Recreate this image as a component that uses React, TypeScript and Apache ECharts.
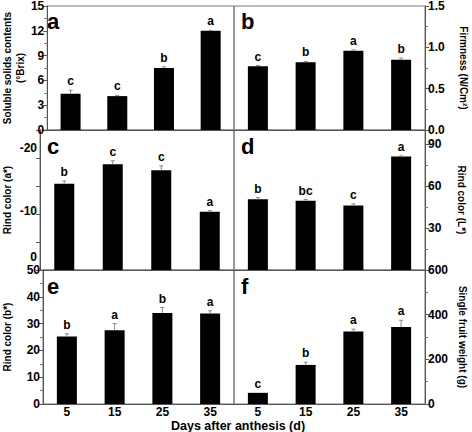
import React, { useEffect, useRef } from "react";
import * as echarts from "echarts";

const days = ["5", "15", "25", "35"];

const solids = [4.4, 4.1, 7.5, 12.0];
const solidsErr = [0.4, 0.1, 0.15, 0.05];
const solidsLetters = ["c", "c", "b", "a"];

const firmness = [0.77, 0.82, 0.96, 0.85];
const firmnessErr = [0.01, 0.01, 0.01, 0.02];
const firmnessLetters = ["c", "b", "a", "b"];

const rindA = [-15.4, -18.9, -17.8, -10.4];
const rindAErr = [0.5, 0.6, 0.8, 0.2];
const rindALetters = ["b", "c", "c", "a"];

const rindL = [50.5, 49.5, 46.0, 81.0];
const rindLErr = [1.2, 0.8, 1.2, 0.5];
const rindLLetters = ["b", "bc", "c", "a"];

const rindB = [25.2, 27.5, 34.0, 33.8];
const rindBErr = [1.0, 2.5, 2.0, 1.0];
const rindBLetters = ["b", "a", "b", "a"];

const weight = [50, 175, 325, 345];
const weightErr = [0, 12, 10, 30];
const weightLetters = ["c", "b", "a", "a"];

const panelLetters = ["a", "b", "c", "d", "e", "f"];
const xTitle = "Days after anthesis (d)";

const FONT = "'Liberation Sans', Arial, Helvetica, sans-serif";

const rows = [
  { top: 5, height: 125 },
  { top: 130, height: 140 },
  { top: 270, height: 134 },
];
const cols = [
  { left: 40, width: 194 },
  { left: 234, width: 191 },
];

type Panel = {
  values: number[];
  errs: number[];
  letters: string[];
  yAxis: any;
};

const lbl = { fontFamily: FONT, fontWeight: "bold", fontSize: 12, color: "#000" };

const panels: Panel[] = [
  {
    values: solids,
    errs: solidsErr,
    letters: solidsLetters,
    yAxis: {
      position: "left",
      min: 0,
      max: 15,
      interval: 3,
      name: "Soluble solids contents\n(°Brix)",
      nameGap: 17,
    },
  },
  {
    values: firmness,
    errs: firmnessErr,
    letters: firmnessLetters,
    yAxis: {
      position: "right",
      min: 0,
      max: 1.5,
      interval: 0.5,
      name: "Firmness (N/Cm²)",
      nameGap: 32,
      axisLabel: { formatter: (v: number) => v.toFixed(1) },
    },
  },
  {
    values: rindA,
    errs: rindAErr,
    letters: rindALetters,
    yAxis: {
      position: "left",
      min: -25,
      max: 0,
      interval: 5,
      inverse: true,
      name: "Rind color (a*)",
      nameGap: 26,
      minorTick: { show: false },
      axisLabel: {
        formatter: (v: number) =>
          v === 0 ? "{l0|0}" : v === -20 ? "{l1|-20}" : v === -10 ? "{l2|-10}" : "",
        rich: {
          l0: { ...lbl, padding: [0, 0, 26, 0] },
          l1: { ...lbl, padding: [0, 0, 20, 0] },
          l2: { ...lbl, padding: [0, 0, 6, 0] },
        },
      },
    },
  },
  {
    values: rindL,
    errs: rindLErr,
    letters: rindLLetters,
    yAxis: {
      position: "right",
      min: 0,
      max: 100,
      interval: 30,
      name: "Rind color (L*)",
      nameGap: 30,
      axisLabel: { showMaxLabel: false, showMinLabel: false },
    },
  },
  {
    values: rindB,
    errs: rindBErr,
    letters: rindBLetters,
    yAxis: {
      position: "left",
      min: 0,
      max: 50,
      interval: 10,
      name: "Rind color (b*)",
      nameGap: 29,
    },
  },
  {
    values: weight,
    errs: weightErr,
    letters: weightLetters,
    yAxis: {
      position: "right",
      min: 0,
      max: 600,
      interval: 200,
      name: "Single fruit weight (g)",
      nameGap: 31,
    },
  },
];

export default function App() {
  const ref = useRef<HTMLDivElement>(null);

  useEffect(() => {
    if (!ref.current) return;
    const chart = echarts.init(ref.current, undefined, { renderer: "svg" });

    const grid: any[] = [];
    const xAxis: any[] = [];
    const yAxis: any[] = [];
    const series: any[] = [];
    const graphic: any[] = [];

    panels.forEach((p, i) => {
      const r = rows[Math.floor(i / 2)];
      const c = cols[i % 2];
      const isBottom = Math.floor(i / 2) === 2;
      const isRight = i % 2 === 1;
      grid.push({
        left: c.left,
        top: r.top,
        width: c.width,
        height: r.height,
        show: true,
        borderColor: "#777",
        borderWidth: 1,
        backgroundColor: "transparent",
      });
      xAxis.push({
        type: "category",
        gridIndex: i,
        data: days,
        axisTick: { show: false },
        axisLine: { lineStyle: { color: "#555", width: 1 } },
        axisLabel: {
          show: isBottom,
          fontFamily: FONT,
          fontWeight: "bold",
          fontSize: 12,
          color: "#000",
          margin: 2,
        },
        splitLine: { show: false },
      });
      const ya = p.yAxis;
      yAxis.push({
        type: "value",
        gridIndex: i,
        position: ya.position,
        min: ya.min,
        max: ya.max,
        interval: ya.interval,
        inverse: ya.inverse || false,
        name: ya.name,
        nameLocation: "middle",
        nameGap: ya.nameGap,
        nameRotate: isRight ? -90 : 90,
        nameTextStyle: {
          fontFamily: FONT,
          fontWeight: "bold",
          fontSize: 10,
          color: "#000",
          lineHeight: 13,
        },
        axisLine: { show: true, lineStyle: { color: "#555", width: 1 } },
        axisTick: { show: true, length: 4, lineStyle: { color: "#555" } },
        minorTick: ya.minorTick || { show: true, splitNumber: 2, length: 3, lineStyle: { color: "#777" } },
        splitLine: { show: false },
        axisLabel: {
          ...lbl,
          margin: 3,
          ...(ya.axisLabel || {}),
        },
      });
      series.push({
        type: "bar",
        xAxisIndex: i,
        yAxisIndex: i,
        data: p.values,
        barWidth: 20,
        itemStyle: { color: "#000" },
        z: 2,
      });
      series.push({
        type: "custom",
        xAxisIndex: i,
        yAxisIndex: i,
        z: 3,
        clip: false,
        data: p.values.map((v, k) => [k, v, p.errs[k]]),
        renderItem: (params: any, api: any) => {
          const k = api.value(0);
          const v = api.value(1);
          const e = api.value(2);
          const top = v < 0 ? v - e : v + e;
          const p0 = api.coord([k, v]);
          const p1 = api.coord([k, top]);
          const children: any[] = [];
          if (e > 0) {
            children.push({
              type: "line",
              shape: { x1: p1[0], y1: p0[1], x2: p1[0], y2: p1[1] },
              style: { stroke: "#888", lineWidth: 1 },
            });
            children.push({
              type: "line",
              shape: { x1: p1[0] - 2, y1: p1[1], x2: p1[0] + 2, y2: p1[1] },
              style: { stroke: "#888", lineWidth: 1 },
            });
          }
          children.push({
            type: "text",
            style: {
              text: p.letters[params.dataIndex],
              x: p1[0],
              y: p1[1] - 3,
              align: "center",
              verticalAlign: "bottom",
              fontFamily: FONT,
              fontWeight: "bold",
              fontSize: 12,
              fill: "#000",
            },
          });
          return { type: "group", children };
        },
      });
      graphic.push({
        type: "text",
        left: c.left + 7,
        top: r.top + 5,
        style: {
          text: panelLetters[i],
          fontFamily: FONT,
          fontWeight: "bold",
          fontSize: 22,
          fill: "#000",
        },
      });
    });

    graphic.push({
      type: "text",
      left: 171,
      top: 419,
      style: {
        text: xTitle,
        fontFamily: FONT,
        fontWeight: "bold",
        fontSize: 12.5,
        fill: "#000",
      },
    });

    chart.setOption({
      animation: false,
      backgroundColor: "#fff",
      grid,
      xAxis,
      yAxis,
      series,
      graphic,
    });

    return () => chart.dispose();
  }, []);

  return (
    <div
      ref={ref}
      style={{ position: "fixed", left: 0, top: 0, width: 472, height: 432 }}
    />
  );
}
